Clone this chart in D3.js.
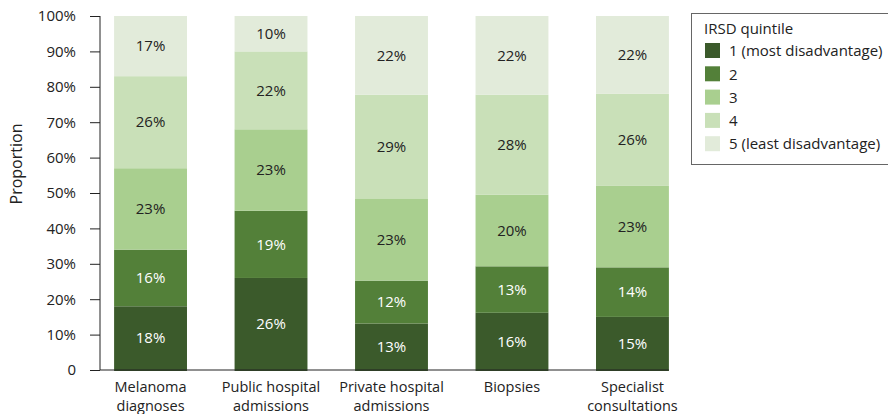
<!DOCTYPE html>
<html lang="en">
<head>
<meta charset="UTF-8" />
<title>IRSD quintile proportions</title>
<style>
body { margin: 0; background: #fff; }
#chart { display: block; }
text { font-family: "Open Sans", Lato, sans-serif; }
.axis text { font-size: 15px; fill: #222; }
.axis path, .axis line { stroke: #222; }
</style>
</head>
<body>
<svg id="chart" width="888" height="414"></svg>
<script src="https://cdn.jsdelivr.net/npm/d3@7"></script>
<script>
// data (percent per quintile)
const categories = [["Melanoma", "diagnoses"], ["Public hospital", "admissions"], ["Private hospital", "admissions"], ["Biopsies"], ["Specialist", "consultations"]];
const quintiles = ["1 (most disadvantage)", "2", "3", "4", "5 (least disadvantage)"];
const q1 = [18, 26, 13, 16, 15];
const q2 = [16, 19, 12, 13, 14];
const q3 = [23, 23, 23, 20, 23];
const q4 = [26, 22, 29, 28, 26];
const q5 = [17, 10, 22, 22, 22];
const yTicks = [0, 0.1, 0.2, 0.3, 0.4, 0.5, 0.6, 0.7, 0.8, 0.9, 1];
const colors = ["#3b5a2b", "#538039", "#a9cf8f", "#c9e0b8", "#e2ebda"];
const labelColors = ["#fff", "#fff", "#222", "#222", "#222"];

const series = [q1, q2, q3, q4, q5];
const keys = categories.map(c => c.join(" "));
const rows = keys.map((k, i) => {
  const r = { name: k };
  quintiles.forEach((q, j) => r[j] = series[j][i]);
  return r;
});

const svg = d3.select("#chart");
const x = d3.scaleBand().domain(keys).range([90, 693]).paddingInner(0.395).paddingOuter(0.2);
const y = d3.scaleLinear().domain([0, 1]).range([370, 16]);

const stack = d3.stack().keys(d3.range(5)).offset(d3.stackOffsetExpand);
const stacked = stack(rows);

const layer = svg.append("g").selectAll("g").data(stacked).join("g")
  .attr("fill", (d, i) => colors[i]);

layer.selectAll("rect").data(d => d).join("rect")
  .attr("x", d => x(d.data.name))
  .attr("width", x.bandwidth())
  .attr("y", d => y(d[1]))
  .attr("height", d => y(d[0]) - y(d[1]) + (d[0] === 0 ? 1 : 0));

layer.each(function (s, i) {
  d3.select(this).selectAll("text").data(s).join("text")
    .attr("x", d => x(d.data.name) + x.bandwidth() / 2)
    .attr("y", d => (y(d[0]) + y(d[1])) / 2)
    .attr("dy", "0.35em")
    .attr("text-anchor", "middle")
    .attr("font-size", 15)
    .attr("fill", labelColors[i])
    .text(d => d.data[i] + "%");
});

// y axis
const yAxis = svg.append("g").attr("class", "axis")
  .attr("transform", "translate(100,0)")
  .call(d3.axisLeft(y).tickValues(yTicks).tickSize(10).tickPadding(14)
    .tickFormat(d => d === 0 ? "0" : d3.format(".0%")(d)));
yAxis.select(".domain").attr("d", "M0,16V370");

// baseline
svg.append("line").attr("stroke", "#222")
  .attr("x1", 100).attr("x2", x(keys[4]) + x.bandwidth())
  .attr("y1", y(0)).attr("y2", y(0));

svg.append("text")
  .attr("transform", "translate(22,164) rotate(-90)")
  .attr("text-anchor", "middle")
  .attr("font-size", 16).attr("fill", "#222")
  .text("Proportion");

// x labels
const xl = svg.append("g").selectAll("text").data(categories).join("text")
  .attr("text-anchor", "middle")
  .attr("font-size", 14.5).attr("fill", "#222")
  .attr("x", (d, i) => x(keys[i]) + x.bandwidth() / 2)
  .attr("y", 392);
xl.selectAll("tspan").data(d => d).join("tspan")
  .attr("x", function () { return d3.select(this.parentNode).attr("x"); })
  .attr("dy", (d, i) => i ? 19 : 0)
  .text(d => d);

// legend
const lg = svg.append("g");
lg.append("rect").attr("x", 691.5).attr("y", 13.5).attr("width", 210).attr("height", 151)
  .attr("fill", "none").attr("stroke", "#666");
lg.append("text").attr("x", 704).attr("y", 34).attr("font-size", 15).attr("fill", "#222").text("IRSD quintile");
const li = lg.selectAll("g.item").data(quintiles).join("g").attr("class", "item")
  .attr("transform", (d, i) => `translate(705,${43 + i * 23.3})`);
li.append("rect").attr("width", 15).attr("height", 15).attr("fill", (d, i) => colors[i]);
li.append("text").attr("x", 24).attr("y", 8).attr("dy", "0.35em")
  .attr("font-size", 15).attr("fill", "#222").text(d => d);
</script>
</body>
</html>
